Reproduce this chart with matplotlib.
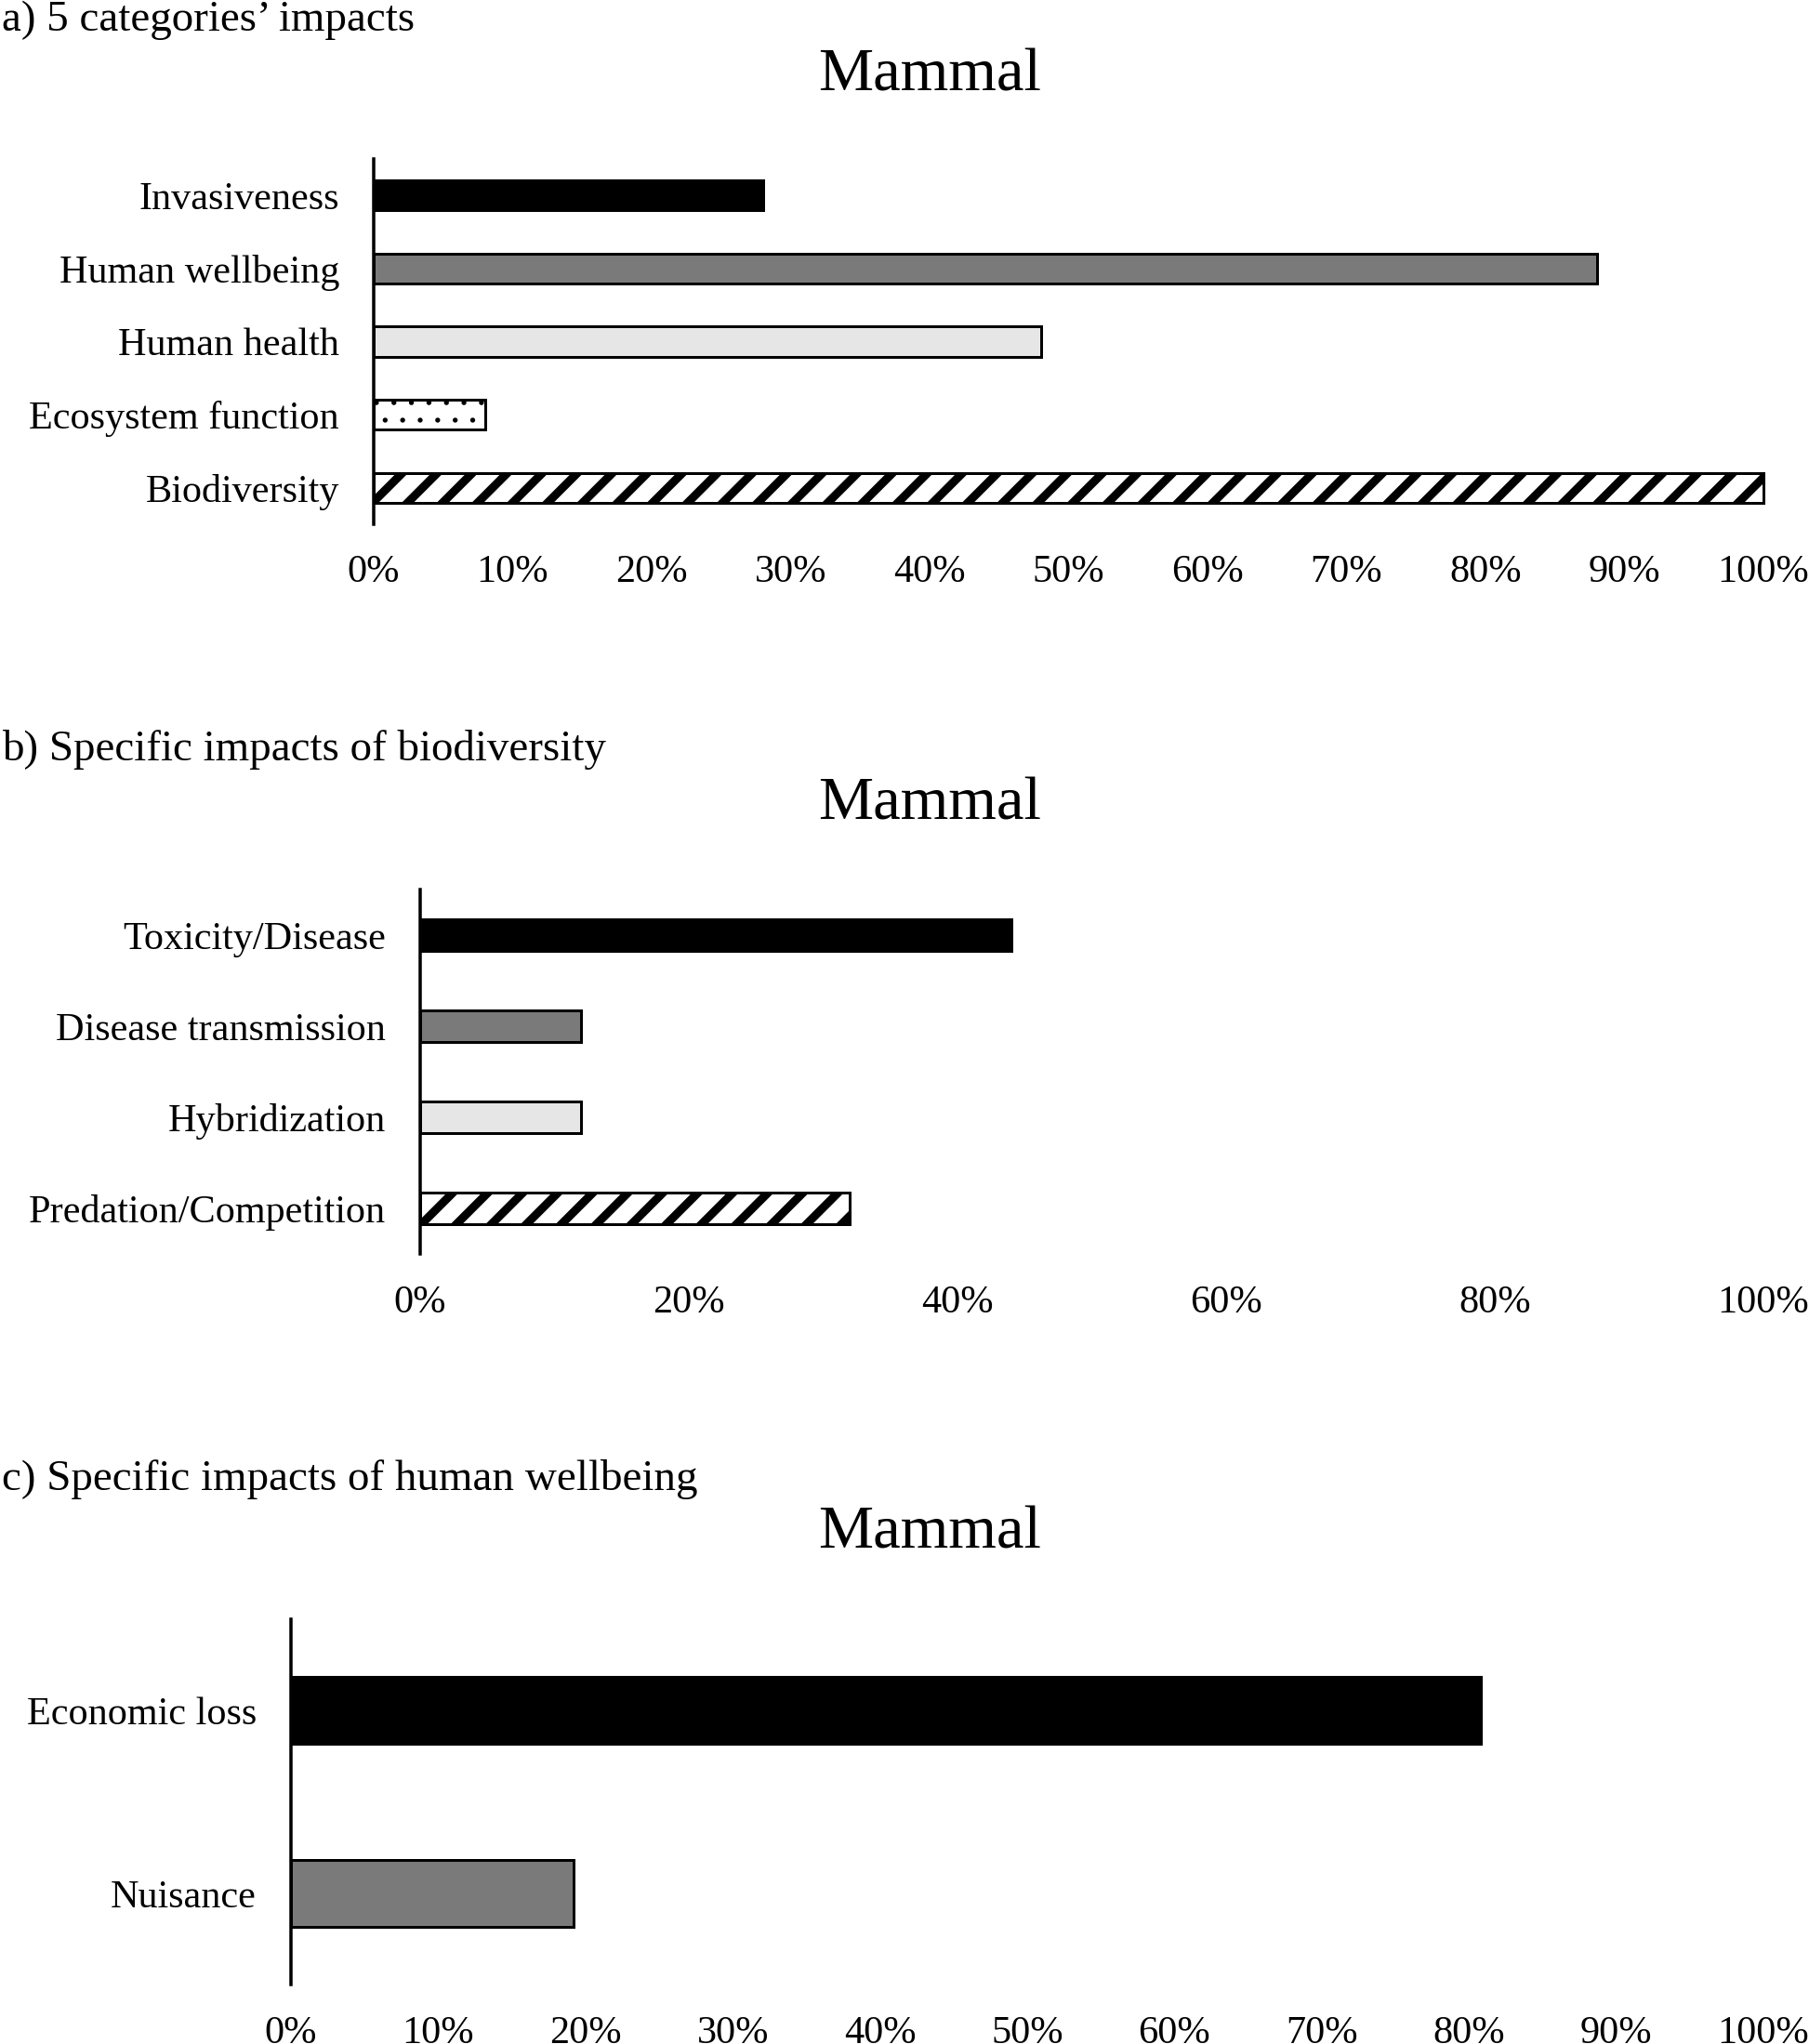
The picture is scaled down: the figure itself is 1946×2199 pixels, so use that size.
import matplotlib
matplotlib.use("Agg")
import matplotlib.pyplot as plt

# ---------------- data ----------------
a_categories = ["Invasiveness", "Human wellbeing", "Human health",
                "Ecosystem function", "Biodiversity"]
a_values = [28, 88, 48, 8, 100]

b_categories = ["Toxicity/Disease", "Disease transmission", "Hybridization",
                "Predation/Competition"]
b_values = [44, 12, 12, 32]

c_categories = ["Economic loss", "Nuisance"]
c_values = [80.8, 19.2]

a_ticks = list(range(0, 101, 10))
b_ticks = list(range(0, 101, 20))
c_ticks = list(range(0, 101, 10))

panel_labels = ["a) 5 categories\u2019 impacts",
                "b) Specific impacts of biodiversity",
                "c) Specific impacts of human wellbeing"]
panel_title = "Mammal"

# ---------------- styles ----------------
DPI = 226
W, H = 1946, 2199


def pt(px):
    return px * 72.0 / DPI


plt.rcParams["font.family"] = ["Liberation Serif", "DejaVu Serif"]
plt.rcParams["hatch.color"] = "black"

styles = [
    dict(facecolor="black", hatch=None, hlw=pt(9)),
    dict(facecolor="#7a7a7a", hatch=None, hlw=pt(9)),
    dict(facecolor="#e6e6e6", hatch=None, hlw=pt(9)),
    dict(facecolor="white", hatch="..", hlw=pt(1.5)),
    dict(facecolor="white", hatch="//", hlw=pt(9)),
]
style_orders = {
    "a": [0, 1, 2, 3, 4],
    "b": [0, 1, 2, 4],
    "c": [0, 1],
}

fig = plt.figure(figsize=(W / DPI, H / DPI), dpi=DPI)


def add_axes_px(left, right, top, bottom):
    return fig.add_axes([left / W, 1 - bottom / H, (right - left) / W,
                         (bottom - top) / H])


LABEL_FS = pt(42.3)
TITLE_FS = pt(66.5)
PANEL_FS = pt(47)

panels = [
    ("a", a_categories, a_values, a_ticks, (402, 1897, 171, 564), 0.41, 33, 97),
    ("b", b_categories, b_values, b_ticks, (452, 1897, 957, 1349), 0.35, 818, 882),
    ("c", c_categories, c_values, c_ticks, (313, 1897, 1742, 2135), 0.365, 1603, 1666),
]

for i, (key, cats, vals, ticks, box, bh, label_base, title_base) in enumerate(panels):
    ax = add_axes_px(*box)
    ypos = list(range(len(cats)))
    for j, (y, v) in enumerate(zip(ypos, vals)):
        st = styles[style_orders[key][j]]
        with plt.rc_context({"hatch.linewidth": st["hlw"]}):
            bars = ax.barh(y, v, height=bh, color=st["facecolor"],
                           edgecolor="black", linewidth=pt(3),
                           hatch=st["hatch"], clip_on=False, zorder=2)
        for p in bars.patches:
            if hasattr(p, "set_hatch_linewidth"):
                p.set_hatch_linewidth(st["hlw"])
    ax.set_xlim(0, 100)
    ax.set_ylim(len(cats) - 0.5, -0.5)
    ax.set_xticks(ticks)
    ax.set_xticklabels([f"{t}%" for t in ticks])
    ax.set_yticks(ypos)
    ax.set_yticklabels(cats)
    for s in ["top", "right", "bottom"]:
        ax.spines[s].set_visible(False)
    ax.spines["left"].set_linewidth(pt(3.5))
    ax.spines["left"].set_color("black")
    ax.spines["left"].set_zorder(3)
    ax.tick_params(axis="x", length=0, labelsize=LABEL_FS, pad=pt(33))
    ax.tick_params(axis="y", length=0, labelsize=LABEL_FS, pad=pt(37))
    ax.set_facecolor("none")

    fig.text(2 / W, 1 - label_base / H, panel_labels[i], fontsize=PANEL_FS,
             ha="left", va="baseline")
    fig.text(1000 / W, 1 - title_base / H, panel_title, fontsize=TITLE_FS,
             ha="center", va="baseline")

fig.savefig("out.png", dpi=DPI, facecolor="white")
